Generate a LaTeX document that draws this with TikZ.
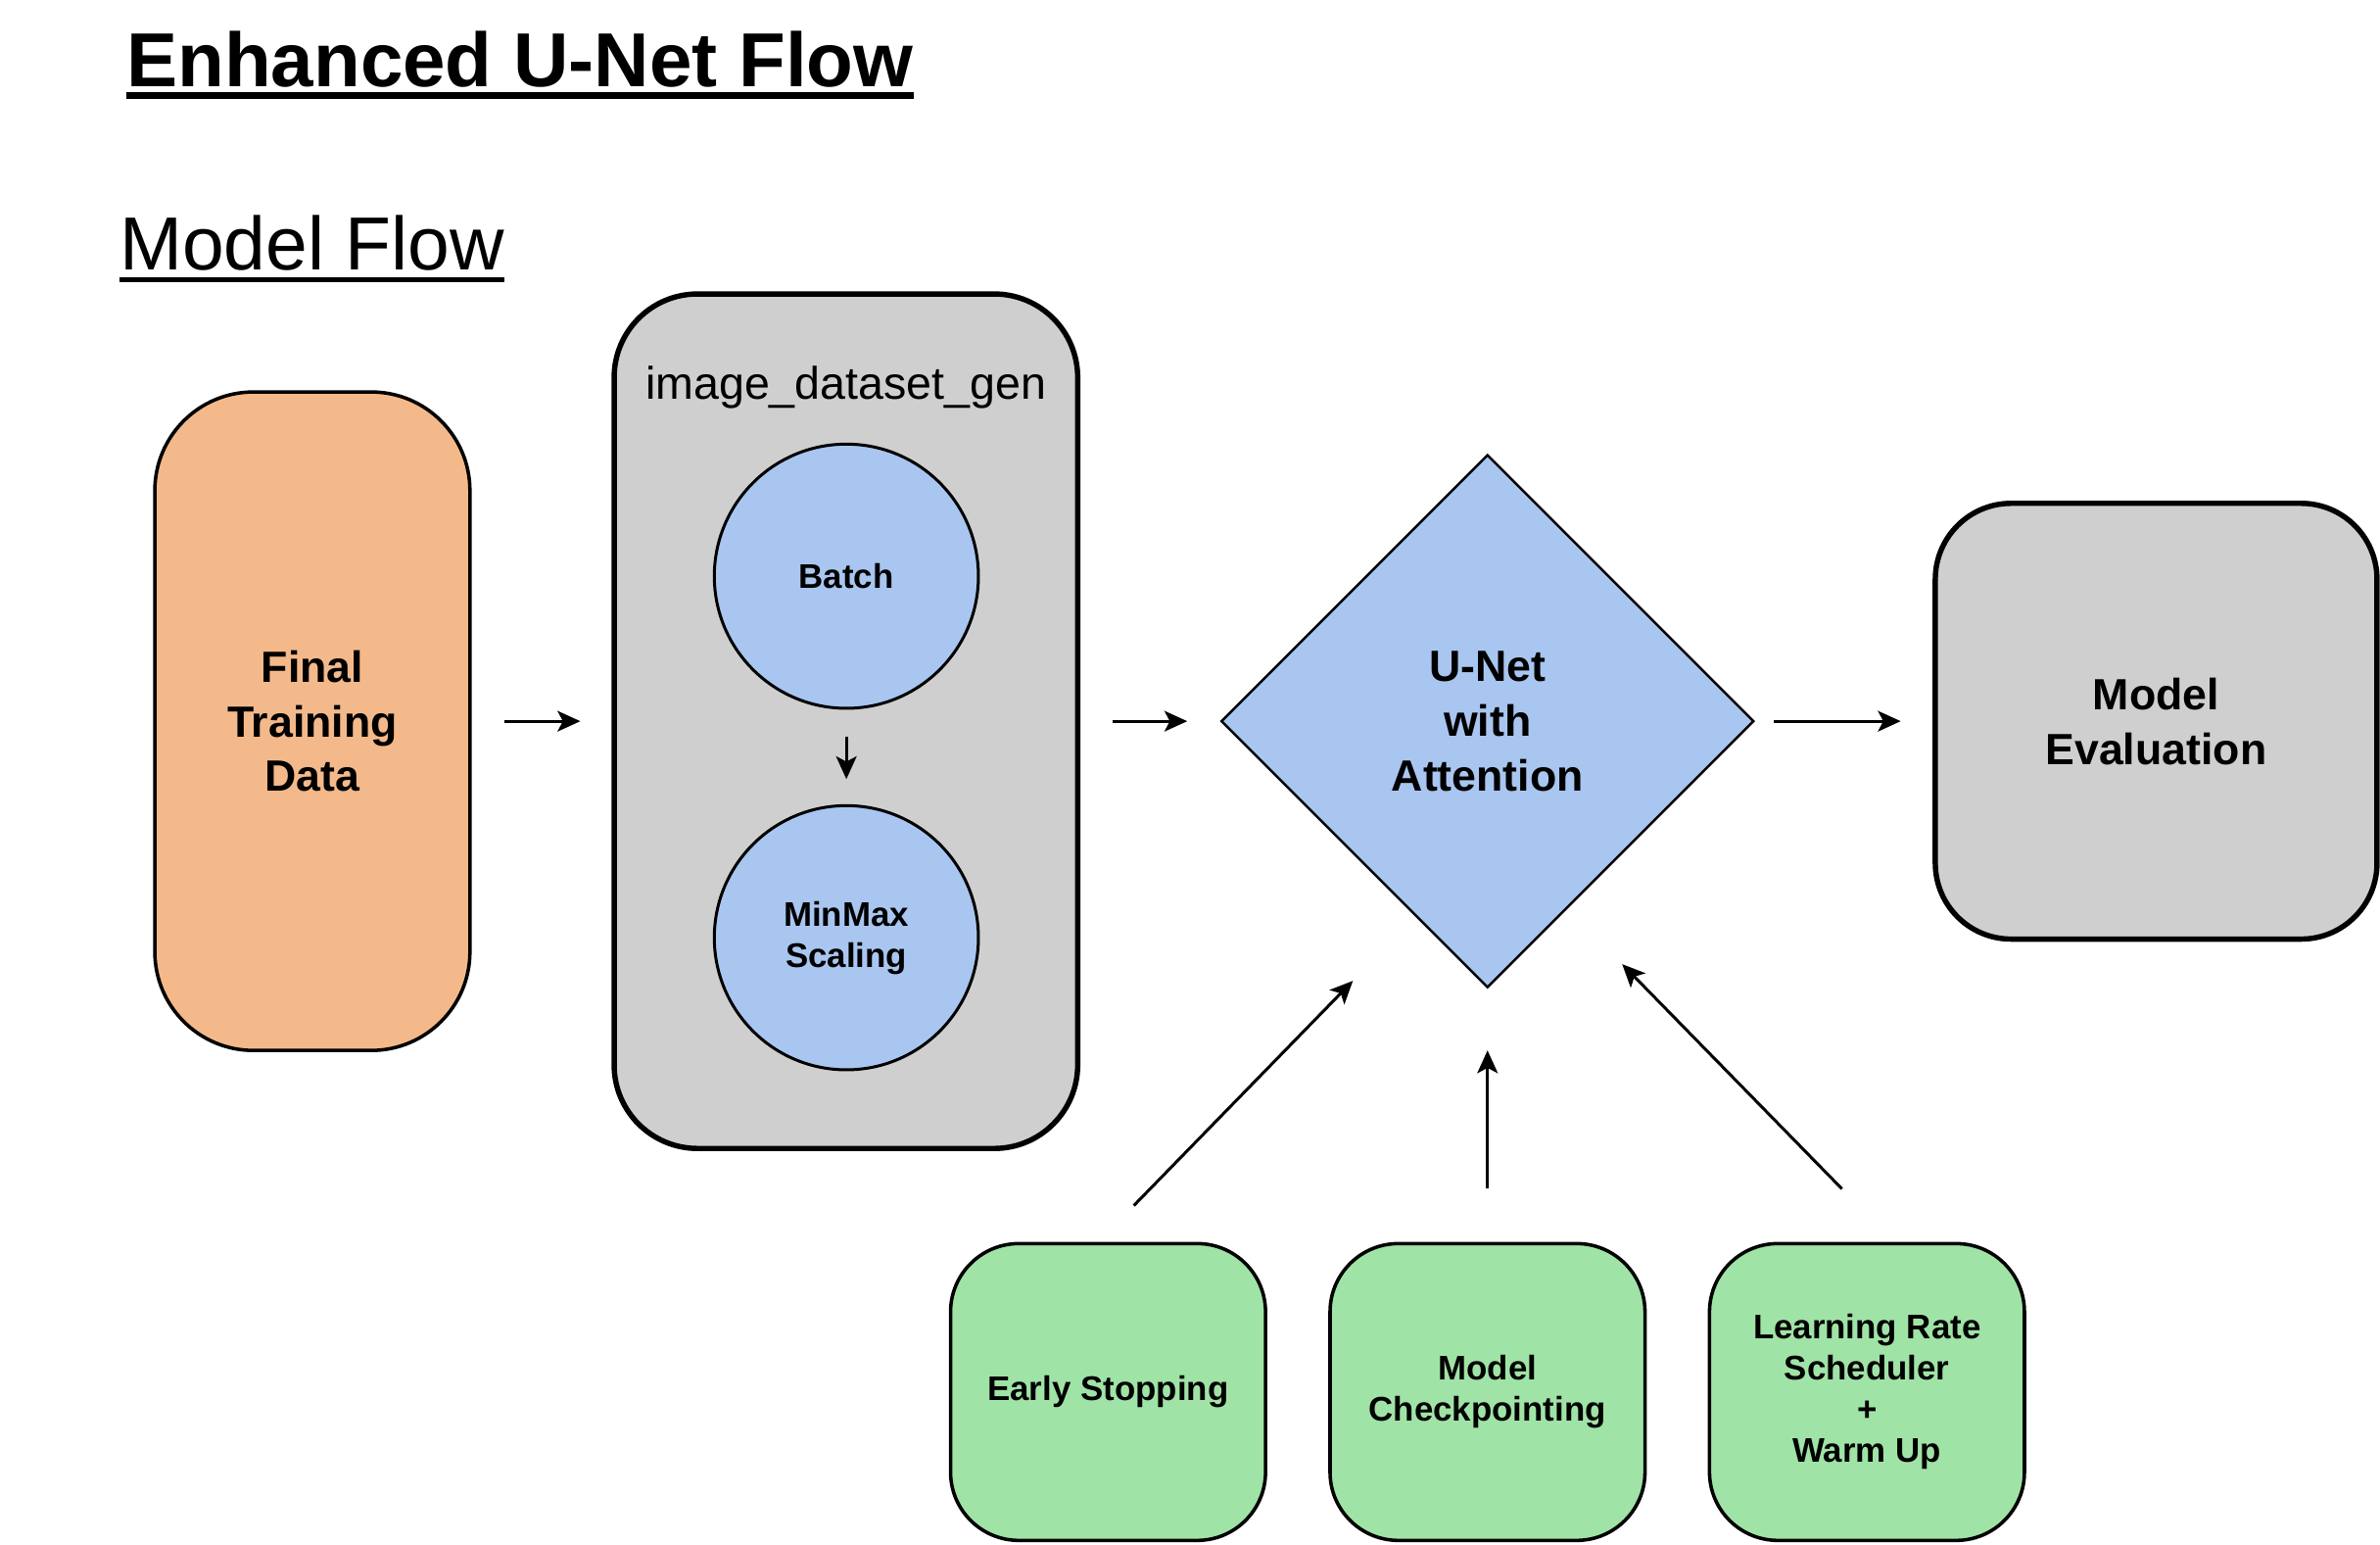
\documentclass[tikz,border=0pt]{standalone}
\usepackage{fontspec}
\setmainfont{Liberation Sans}
\usetikzlibrary{shapes.geometric,arrows.meta}
\definecolor{po}{HTML}{F4B98A}
\definecolor{pg}{HTML}{CFCFCF}
\definecolor{pb}{HTML}{A9C6F0}
\definecolor{pgr}{HTML}{A0E3A6}
\tikzset{
	rbox/.style={draw, line width=1.3pt, align=center, inner sep=0pt, font=\fontsize{16.4}{20.5}\selectfont\bfseries},
	gbox/.style={draw, fill=pgr, line width=1.3pt, align=center, inner sep=0pt, minimum width=4.15cm, minimum height=3.91cm, rounded corners=0.9cm, font=\fontsize{12.8}{15.4}\selectfont\bfseries},
	circ/.style={circle, draw, fill=pb, line width=1.1pt, align=center, inner sep=0pt, minimum size=3.48cm, font=\fontsize{12.8}{15.4}\selectfont\bfseries},
	ar/.style={line width=1.1pt, -{Stealth[length=0.3cm, width=0.27cm, inset=0.07cm]}}
}
\begin{document}
\begin{tikzpicture}
			\useasboundingbox (0,0) rectangle (31.36,-20.34);

			\node[anchor=base west, inner sep=0pt, font=\fontsize{28.7}{34}\selectfont\bfseries] (title) at (1.66,-1.148) {Enhanced U-Net Flow};
			\draw[line width=0.1cm] ([yshift=-0.11cm]title.base west) -- ([yshift=-0.11cm]title.base east);

			\node[anchor=base west, inner sep=0pt, font=\fontsize{28.2}{34}\selectfont] (flow) at (1.57,-3.55) {Model Flow};
			\draw[line width=0.06cm] ([yshift=-0.134cm]flow.base west) -- ([yshift=-0.134cm]flow.base east);

			\node[rbox, fill=po, minimum width=4.152cm, minimum height=8.674cm, rounded corners=1.3cm] (fin) at (4.116,-9.5) {Final\\Training\\Data};

			\node[rbox, fill=pg, line width=2pt, minimum width=6.108cm, minimum height=11.256cm, rounded corners=1.1cm] (gen) at (11.146,-9.5) {};
			\node[anchor=base, font=\fontsize{17.1}{20}\selectfont] (genlbl) at (11.146,-5.256) {image\_dataset\_gen};
			\node[circ] (batch) at (11.152,-7.59) {Batch};
			\node[circ] (minmax) at (11.152,-12.352) {MinMax\\Scaling};

			\node[diamond, draw, fill=pb, line width=0.9pt, minimum width=7.02cm, minimum height=7.02cm, inner sep=0pt, align=center, font=\fontsize{16.4}{20.5}\selectfont\bfseries] (unet) at (19.6,-9.5) {U-Net\\with\\Attention};

			\node[rbox, fill=pg, line width=2pt, minimum width=5.82cm, minimum height=5.74cm, rounded corners=1cm] (eval) at (28.41,-9.5) {Model\\Evaluation};

			\node[gbox] (stop) at (14.6,-18.336) {Early Stopping};
			\node[gbox] (ckpt) at (19.6,-18.336) {Model\\Checkpointing};
			\node[gbox] (lrs) at (24.6,-18.336) {Learning Rate\\Scheduler\\+\\Warm Up};

			\coordinate (stop top) at (14.94,-15.88);
			\coordinate (unet left) at (17.826,-12.92);
			\coordinate (lrs top) at (24.27,-15.66);
			\coordinate (unet right) at (21.374,-12.70);

			\draw[ar, shorten <=0.43cm, shorten >=0.41cm] (fin) -- (gen);
			\draw[ar, shorten <=0.42cm, shorten >=0.43cm] (gen) -- (unet);
			\draw[ar, shorten <=0.25cm, shorten >=0.42cm] (unet) -- (eval);
			\draw[ar, shorten <=0.35cm, shorten >=0.33cm] (batch) -- (minmax);
			\draw[ar, shorten <=0.7cm, shorten >=0.81cm] (ckpt) -- (unet);
			\draw[ar] (stop top) -- (unet left);
			\draw[ar] (lrs top) -- (unet right);
		\end{tikzpicture}
\end{document}
